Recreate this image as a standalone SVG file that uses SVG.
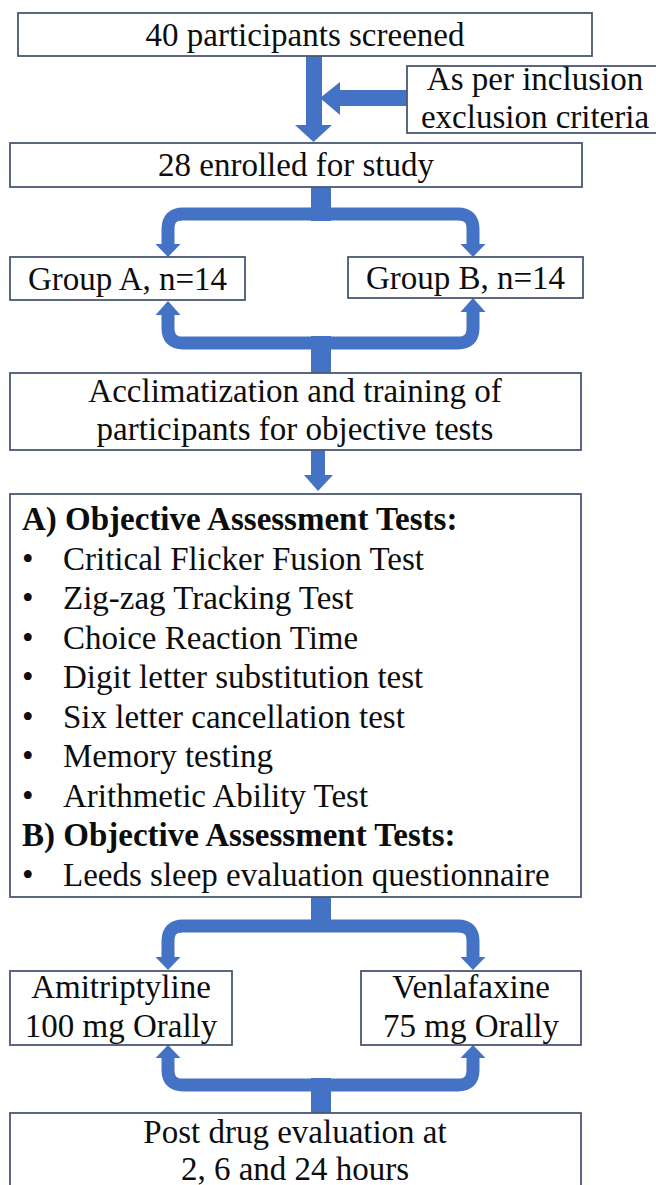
<svg xmlns="http://www.w3.org/2000/svg" width="656" height="1185" viewBox="0 0 656 1185">
  <style>
    .box { fill: #ffffff; stroke: #4a5873; stroke-width: 1.8; }
    .t { font-family: "Liberation Serif", "Times New Roman", serif; font-size: 33px; fill: #0d0d0d; }
    .c { text-anchor: middle; }
    .b { font-weight: bold; }
    .flow { fill: none; stroke: #4472c4; stroke-width: 13; }
    .fill { fill: #4472c4; }
  </style>
  <rect width="656" height="1185" fill="#ffffff"/>

  <!-- connectors -->
  <g id="connectors">
    <!-- screened -> enrolled -->
    <rect class="fill" x="306" y="56" width="16" height="70"/>
    <polygon class="fill" points="295,125 332,125 313.5,142"/>
    <!-- criteria -> main line -->
    <rect class="fill" x="339" y="90" width="69" height="16"/>
    <polygon class="fill" points="340,82 340,115 320,98"/>

    <!-- enrolled -> groups -->
    <rect class="fill" x="311" y="187" width="20" height="34"/>
    <path class="flow" d="M168,245 V229 Q168,214 183,214 H458 Q473,214 473,229 V245"/>
    <polygon class="fill" points="155.5,244 180.5,244 168,257"/>
    <polygon class="fill" points="460.5,244 485.5,244 473,257"/>

    <!-- acclimatization -> groups -->
    <rect class="fill" x="311" y="336" width="20" height="37"/>
    <path class="flow" d="M168,314 V328 Q168,343 183,343 H458 Q473,343 473,328 V311"/>
    <polygon class="fill" points="155.5,315 180.5,315 168,301"/>
    <polygon class="fill" points="460.5,312 485.5,312 473,298"/>

    <!-- acclimatization -> tests -->
    <rect class="fill" x="311" y="450" width="14" height="26"/>
    <polygon class="fill" points="304,475 333,475 318,491"/>

    <!-- tests -> drugs -->
    <rect class="fill" x="311" y="897" width="20" height="35"/>
    <path class="flow" d="M168,958 V941 Q168,926 183,926 H458 Q473,926 473,941 V958"/>
    <polygon class="fill" points="155.5,957 180.5,957 168,970"/>
    <polygon class="fill" points="460.5,957 485.5,957 473,970"/>

    <!-- evaluation -> drugs -->
    <rect class="fill" x="311" y="1078" width="20" height="35"/>
    <path class="flow" d="M168,1057 V1070 Q168,1085 183,1085 H458 Q473,1085 473,1070 V1057"/>
    <polygon class="fill" points="155.5,1058 180.5,1058 168,1045"/>
    <polygon class="fill" points="460.5,1058 485.5,1058 473,1045"/>
  </g>

  <g id="screened">
    <rect class="box" x="18" y="13" width="574" height="43"/>
    <text class="t c" x="305" y="46">40 participants screened</text>
  </g>

  <g id="criteria">
    <rect class="box" x="407" y="66" width="260" height="67"/>
    <text class="t c" x="535" y="90">As per inclusion</text>
    <text class="t c" x="535" y="128">exclusion criteria</text>
  </g>

  <g id="enrolled">
    <rect class="box" x="10" y="143" width="572" height="44"/>
    <text class="t c" x="296" y="176">28 enrolled for study</text>
  </g>

  <g id="group-a">
    <rect class="box" x="10" y="257" width="235" height="43"/>
    <text class="t c" x="127.5" y="290">Group A, n=14</text>
  </g>

  <g id="group-b">
    <rect class="box" x="348" y="257" width="235" height="41"/>
    <text class="t c" x="465.5" y="289">Group B, n=14</text>
  </g>

  <g id="acclimatization">
    <rect class="box" x="10" y="373" width="571" height="77"/>
    <text class="t c" x="295" y="402">Acclimatization and training of</text>
    <text class="t c" x="295" y="440">participants for objective tests</text>
  </g>

  <g id="assessment">
    <rect class="box" x="10" y="494" width="571" height="403"/>
    <text class="t b" x="22" y="530">A) Objective Assessment Tests:</text>
    <text class="t" x="22" y="569.5">•</text><text class="t" x="63" y="569.5">Critical Flicker Fusion Test</text>
    <text class="t" x="22" y="609">•</text><text class="t" x="63" y="609">Zig-zag Tracking Test</text>
    <text class="t" x="22" y="648.7">•</text><text class="t" x="63" y="648.7">Choice Reaction Time</text>
    <text class="t" x="22" y="688.2">•</text><text class="t" x="63" y="688.2">Digit letter substitution test</text>
    <text class="t" x="22" y="727.8">•</text><text class="t" x="63" y="727.8">Six letter cancellation test</text>
    <text class="t" x="22" y="767.3">•</text><text class="t" x="63" y="767.3">Memory testing</text>
    <text class="t" x="22" y="806.9">•</text><text class="t" x="63" y="806.9">Arithmetic Ability Test</text>
    <text class="t b" x="22" y="846.4">B) Objective Assessment Tests:</text>
    <text class="t" x="22" y="886">•</text><text class="t" x="63" y="886">Leeds sleep evaluation questionnaire</text>
  </g>

  <g id="amitriptyline">
    <rect class="box" x="10" y="971" width="222" height="74"/>
    <text class="t c" x="121" y="998">Amitriptyline</text>
    <text class="t c" x="121" y="1037">100 mg Orally</text>
  </g>

  <g id="venlafaxine">
    <rect class="box" x="361" y="971" width="220" height="74"/>
    <text class="t c" x="471" y="998">Venlafaxine</text>
    <text class="t c" x="471" y="1037">75 mg Orally</text>
  </g>

  <g id="evaluation">
    <rect class="box" x="10" y="1113" width="571" height="90"/>
    <text class="t c" x="295" y="1143">Post drug evaluation at</text>
    <text class="t c" x="295" y="1180">2, 6 and 24 hours</text>
  </g>
</svg>
